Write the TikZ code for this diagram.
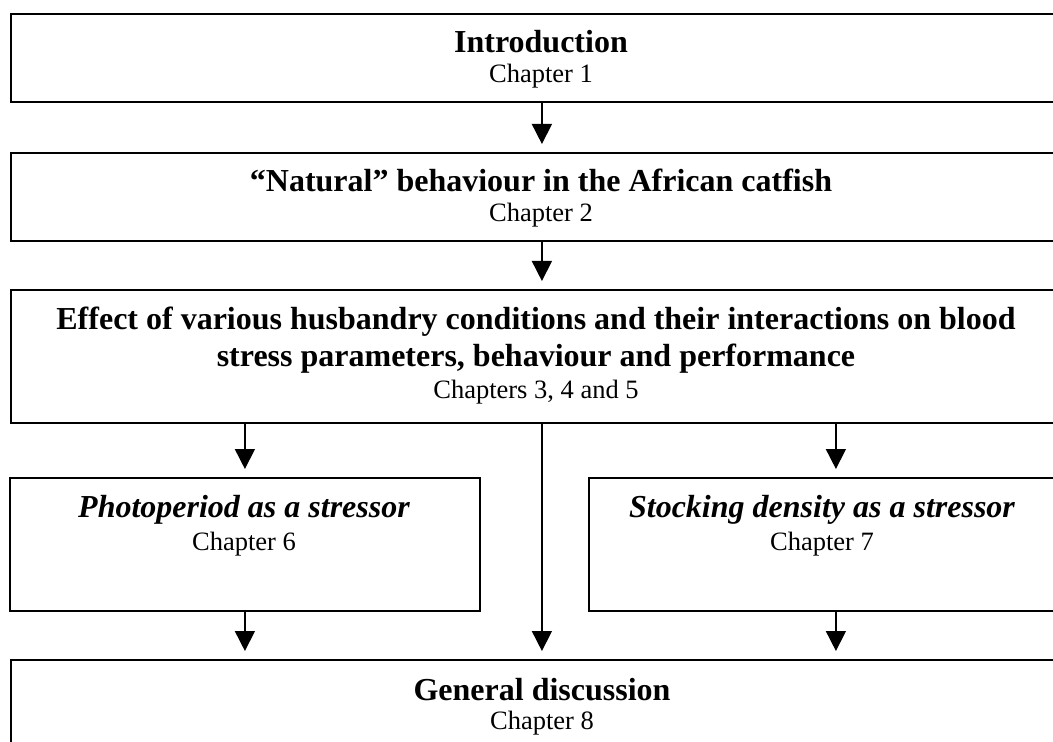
\documentclass[tikz,border=0pt]{standalone}
\usepackage{fontspec}
\setmainfont{Liberation Serif}
\usetikzlibrary{arrows.meta}

\begin{document}
\begin{tikzpicture}[x=0.5pt,y=-0.5pt,
		box/.style={rectangle,draw,line width=0.9pt,inner sep=0pt,anchor=north west,minimum width=531pt},
		title/.style={inner sep=0pt,anchor=base,font=\fontsize{16pt}{18.5pt}\selectfont\bfseries},
		ititle/.style={title,font=\fontsize{16pt}{18.5pt}\selectfont\bfseries\itshape},
		chap/.style={inner sep=0pt,anchor=base,font=\fontsize{13.25pt}{16pt}\selectfont},
		arr/.style={-{Triangle[width=10pt,length=10pt]},line width=0.8pt,shorten >=4pt}
		]
		
		\useasboundingbox (0,0) rectangle (1053,742);
		\clip (0,0) rectangle (1053,742);
		
		% boxes
		\node[box,minimum height=44pt] (intro) at (10,13) {};
		\node[box,minimum height=44pt] (natural) at (10,152) {};
		\node[box,minimum height=66.5pt] (effect) at (10,289) {};
		\node[box,minimum width=235pt,minimum height=66.5pt] (photo) at (9,477) {};
		\node[box,minimum width=247pt,minimum height=66.5pt] (stock) at (588,477) {};
		\node[box,minimum height=60pt] (disc) at (10,659) {};
		
		% texts
		\node[title] (introT) at (541,53) {Introduction};
		\node[chap] (introC) at (541,83) {Chapter 1};
		\node[title] (naturalT) at (541,192) {“Natural” behaviour in the African catfish};
		\node[chap] (naturalC) at (541,222) {Chapter 2};
		\node[title] (effectT) at (536,330) {Effect of various husbandry conditions and their interactions on blood};
		\node[title] (effectU) at (536,367) {stress parameters, behaviour and performance};
		\node[chap] (effectC) at (536,399) {Chapters 3, 4 and 5};
		\node[ititle] (photoT) at (244,517) {Photoperiod as a stressor};
		\node[chap] (photoC) at (244,550) {Chapter 6};
		\node[ititle] (stockT) at (822,517) {Stocking density as a stressor};
		\node[chap] (stockC) at (822,550) {Chapter 7};
		\node[title] (discT) at (542,700) {General discussion};
		\node[chap] (discC) at (542,729) {Chapter 8};
		
		% connectors
		\draw[arr] (intro.south) -- (natural.north);
		\draw[arr] (natural.south) -- (effect.north);
		\draw[arr] (effect.south -| photo.north) -- (photo.north);
		\draw[arr] (effect.south -| stock.north) -- (stock.north);
		\draw[arr] (effect.south) -- (effect.south |- disc.north);
		\draw[arr] (photo.south) -- (photo.south |- disc.north);
		\draw[arr] (stock.south) -- (stock.south |- disc.north);
\end{tikzpicture}
\end{document}
